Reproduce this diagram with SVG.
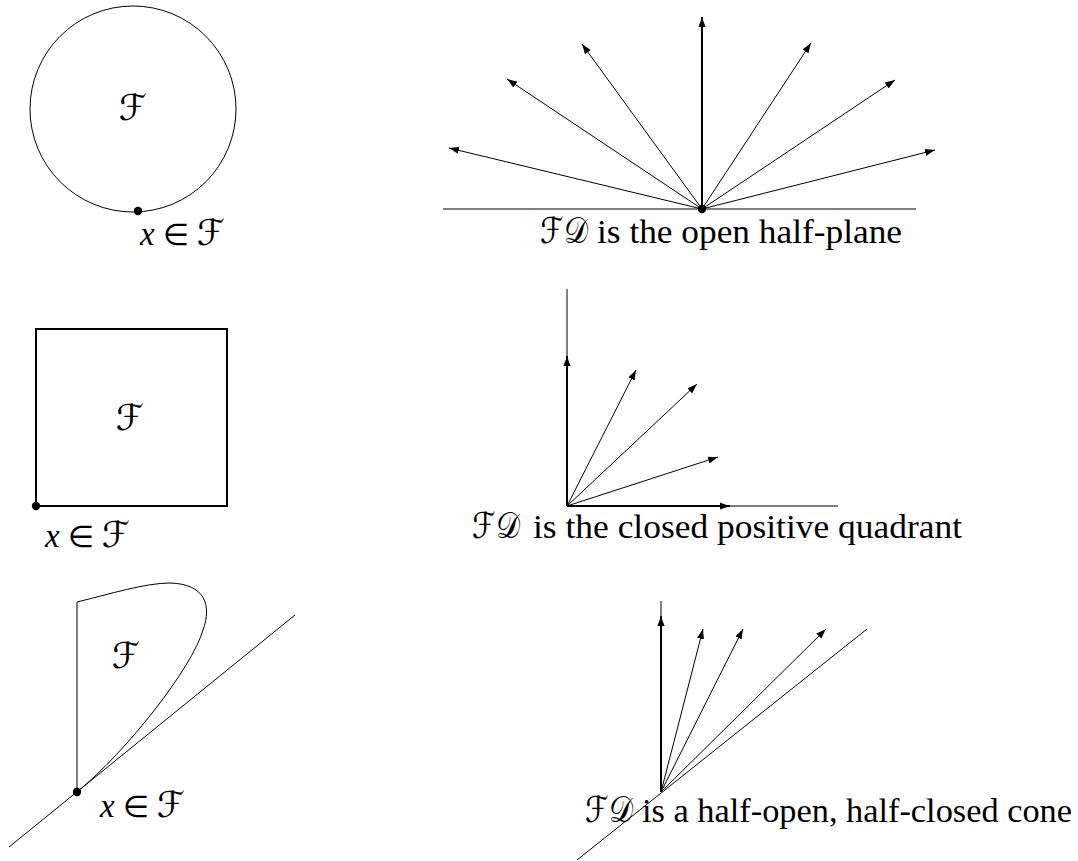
<svg xmlns="http://www.w3.org/2000/svg" width="1078" height="861" viewBox="0 0 1078 861">
<style>
.thin{stroke:#000;stroke-width:1;fill:none}
.thick{stroke:#000;stroke-width:2;fill:none}
.arr{marker-end:url(#ah)}
.dot{fill:#000}
.txt{font-family:"Liberation Serif","DejaVu Serif",serif;font-size:33px;fill:#000}
.math{font-family:"DejaVu Sans","DejaVu Serif",serif;font-size:36px;fill:#000}
.op{font-family:"DejaVu Sans","DejaVu Serif",serif;font-size:30px;fill:#000}
.it{font-style:italic}
</style>
<defs>
<marker id="ah" markerUnits="userSpaceOnUse" markerWidth="12" markerHeight="10" refX="10" refY="0" viewBox="0 -5 12 10" orient="auto">
<path d="M0,-3.6 Q5,-1.6 10,0 Q5,1.6 0,3.6 Z" fill="#000"/>
</marker>
</defs>
<rect width="1078" height="861" fill="#fff"/>

<g id="panel1">
<circle class="thin" cx="133" cy="109" r="103"/>
<circle class="dot" cx="138" cy="211" r="4.2"/>
<text class="math" x="133" y="120" text-anchor="middle">ℱ</text>
<text x="140" y="245"><tspan class="txt it">x</tspan><tspan class="op" dx="8">∈</tspan><tspan class="math" dx="8">ℱ</tspan></text>
</g>

<g id="panel2">
<g id="connectors2">
<line class="thin" x1="443" y1="209" x2="916" y2="209"/>
<line class="thick arr" x1="702" y1="209" x2="702" y2="17"/>
<line class="thin arr" x1="702" y1="209" x2="449" y2="148"/>
<line class="thin arr" x1="702" y1="209" x2="507" y2="79"/>
<line class="thin arr" x1="702" y1="209" x2="582" y2="44"/>
<line class="thin arr" x1="702" y1="209" x2="811" y2="43"/>
<line class="thin arr" x1="702" y1="209" x2="895" y2="80"/>
<line class="thin arr" x1="702" y1="209" x2="935" y2="150"/>
</g>
<circle class="dot" cx="702" cy="209" r="4.2"/>
<text y="243"><tspan class="math" x="540" textLength="48" lengthAdjust="spacingAndGlyphs">ℱ𝒟</tspan><tspan class="txt" x="597" textLength="305" lengthAdjust="spacingAndGlyphs">is the open half-plane</tspan></text>
</g>

<g id="panel3">
<rect class="thick" x="36" y="329" width="191" height="177"/>
<circle class="dot" cx="36" cy="506" r="4.2"/>
<text class="math" x="130" y="430" text-anchor="middle">ℱ</text>
<text x="45" y="547"><tspan class="txt it">x</tspan><tspan class="op" dx="8">∈</tspan><tspan class="math" dx="8">ℱ</tspan></text>
</g>

<g id="panel4">
<g id="connectors4">
<line class="thin" x1="567" y1="506" x2="567" y2="289"/>
<line class="thin" x1="567" y1="506" x2="838" y2="506"/>
<line class="thick arr" x1="567" y1="506" x2="567" y2="356"/>
<line class="thick arr" x1="567" y1="506" x2="730" y2="506"/>
<line class="thin arr" x1="567" y1="506" x2="636" y2="370"/>
<line class="thin arr" x1="567" y1="506" x2="697" y2="384"/>
<line class="thin arr" x1="567" y1="506" x2="718" y2="457"/>
</g>
<text y="538"><tspan class="math" x="472" textLength="48" lengthAdjust="spacingAndGlyphs">ℱ𝒟</tspan><tspan class="txt" x="533" textLength="429" lengthAdjust="spacingAndGlyphs">is the closed positive quadrant</tspan></text>
</g>

<g id="panel5">
<line class="thin" x1="9" y1="847" x2="295" y2="615"/>
<path class="thin" d="M77,792 L77,602 C110,594 145,583 170,583 C205,584 212,605 203,630 C192,668 127,751 77,792"/>
<circle class="dot" cx="77" cy="792" r="4.2"/>
<text class="math" x="126" y="668" text-anchor="middle">ℱ</text>
<text x="100" y="817"><tspan class="txt it">x</tspan><tspan class="op" dx="8">∈</tspan><tspan class="math" dx="8">ℱ</tspan></text>
</g>

<g id="panel6">
<g id="connectors6">
<line class="thin" x1="577" y1="860" x2="867" y2="629"/>
<line class="thin" x1="661" y1="792" x2="661" y2="601"/>
<line class="thick arr" x1="661" y1="792" x2="661" y2="616"/>
<line class="thin arr" x1="661" y1="792" x2="703" y2="629"/>
<line class="thin arr" x1="661" y1="792" x2="743" y2="629"/>
<line class="thin arr" x1="661" y1="792" x2="826" y2="629"/>
</g>
<text y="822"><tspan class="math" x="585" textLength="48" lengthAdjust="spacingAndGlyphs">ℱ𝒟</tspan><tspan class="txt" x="642" textLength="430" lengthAdjust="spacingAndGlyphs">is a half-open, half-closed cone</tspan></text>
</g>
</svg>
